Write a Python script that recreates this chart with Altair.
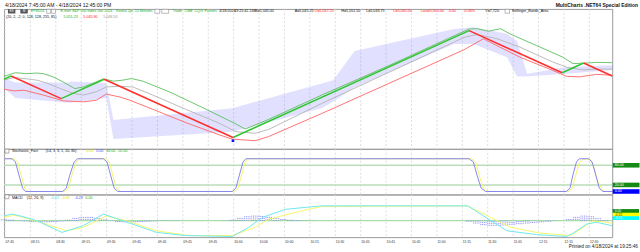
import altair as alt
import pandas as pd

FONT = "Liberation Sans"

# ---------------- main panel data (bar index, price) ----------------
price_idx = [-1, 0, 7, 13, 31, 64, 77, 80, 84]
price_val = [5075, 5076, 5069, 5075, 5057, 5090, 5077, 5080, 5076]
low_marker_idx = [31]
low_marker_val = [5056]

bb_up_idx = [-1.0, 0.6, 2.2, 3.6, 4.5, 5.9, 7.3, 8.9, 10.1, 11.5, 12.9, 14.3, 15.6, 16.8, 18.4, 22.1, 26.7,
             31.4, 32.7, 36.0, 43.4, 52.6, 64.0, 65.1, 66.7, 68.4, 69.7, 73.4, 77.1, 78.5, 80.6, 81.8, 84.0]
bb_up_val = [5075.9, 5077.0, 5076.7, 5076.9, 5076.7, 5075.7, 5074.1, 5072.1, 5072.6, 5073.8, 5075.1, 5074.4,
             5074.7, 5075.2, 5074.4, 5071.1, 5066.3, 5061.2, 5059.6, 5062.6, 5070.1, 5079.0, 5090.5, 5090.6,
             5089.8, 5090.6, 5089.0, 5085.4, 5081.8, 5079.8, 5080.0, 5080.2, 5080.1]
bb_mid_idx = [-1.0, 0.4, 2.2, 3.6, 5.0, 6.9, 8.7, 10.1, 11.9, 13.3, 15.2, 17.0, 19.8, 24.4, 29.1, 31.4, 34.1,
              36.0, 43.4, 63.3, 65.1, 67.9, 71.1, 75.7, 77.8, 79.9, 81.8, 84.0]
bb_mid_val = [5074.7, 5075.5, 5075.1, 5074.7, 5073.8, 5072.1, 5070.6, 5070.1, 5071.1, 5072.6, 5072.8, 5072.6,
              5070.1, 5065.7, 5061.4, 5058.8, 5058.3, 5059.5, 5067.5, 5087.9, 5088.8, 5087.5, 5084.9, 5080.3,
              5078.6, 5077.9, 5078.1, 5078.1]
bb_low_idx = [-1.0, 0.4, 1.8, 4.5, 7.3, 10.1, 11.9, 13.3, 15.2, 16.6, 19.8, 24.4, 29.1, 30.9, 34.1, 36.0, 43.4,
              63.3, 66.0, 67.4, 71.1, 75.7, 77.6, 79.4, 81.8, 84.0]
bb_low_val = [5071.9, 5071.4, 5071.6, 5070.1, 5068.3, 5068.0, 5068.5, 5070.4, 5069.5, 5068.5, 5065.7, 5061.6,
              5057.8, 5056.5, 5056.0, 5057.3, 5064.4, 5084.1, 5087.5, 5085.9, 5081.8, 5077.7, 5075.9, 5075.7,
              5076.5, 5076.2]
area_idx = [-1.0, 0.6, 8.0, 8.3, 13.3, 14.3, 30.9, 43.4, 45.0, 48.0, 61.9, 64.6, 69.3, 70.7, 72.1, 77.6, 84.1]
area_top = [5075.3, 5074.0, 5074.0, 5074.3, 5073.8, 5062.4, 5066.0, 5073.7, 5074.7, 5083.7, 5090.5, 5091.0,
            5089.0, 5086.8, 5076.7, 5078.8, 5079.3]
area_bot = [5072.3, 5069.2, 5067.7, 5067.7, 5069.2, 5056.5, 5058.8, 5066.0, 5068.0, 5072.5, 5085.9, 5085.9,
            5081.8, 5075.8, 5075.8, 5076.7, 5077.8]
main_ticks = [5055, 5060, 5065, 5070, 5075, 5080, 5085, 5090]

# ---------------- stochastic ----------------
sto_k_idx = [-1, 0.15, 0.6, 1.1, 1.6, 2.0, 7.2, 7.7, 8.2, 8.8, 9.3, 12.9, 13.4, 13.9, 14.4, 14.9,
             30.9, 31.4, 31.9, 32.4, 32.8, 64.0, 64.6, 65.1, 65.7, 66.3, 77.6, 78.1, 78.5, 79.0, 79.4,
             80.7, 81.2, 81.7, 82.2, 82.7, 84.5]
sto_k_val = [100, 100, 90, 50, 10, 0, 0, 10, 50, 90, 100, 100, 90, 50, 10, 0,
             0, 10, 50, 90, 100, 100, 90, 50, 10, 0, 0, 10, 50, 90, 100,
             100, 90, 50, 10, 0, 0]
sto_d_idx = [-1, 0.4, 0.9, 1.4, 1.9, 2.3, 7.5, 8.0, 8.5, 9.1, 9.6, 13.2, 13.7, 14.2, 14.7, 15.2,
             31.2, 31.7, 32.2, 32.7, 33.1, 64.3, 64.9, 65.4, 66.0, 66.6, 77.9, 78.4, 78.9, 79.4, 79.9,
             80.5, 81.0, 81.5, 82.0, 82.6, 83.0, 84.5]
sto_d_val = [100, 100, 90, 50, 10, 0, 0, 10, 50, 90, 100, 100, 90, 50, 10, 0,
             0, 10, 50, 90, 100, 100, 90, 50, 10, 0, 0, 10, 50, 88, 98,
             100, 95, 70, 30, 5, 0, 0]
sto_levels = [80, 20]
sto_box_val = [80, 20, 0]
sto_box_lab = ["80.00", "20.00", "0.00"]
sto_box_col = ["#168a16", "#168a16", "#0000ff"]

# ---------------- MACD ----------------
macd_idx = [-1, 0.15, 1.8, 3.6, 7.1, 10.1, 12.9, 15.6, 20.3, 24.4, 30.9, 33.2, 35.1, 38.3, 43.4, 63.8,
            69.3, 73.4, 77.6, 78.5, 80.4, 81.8, 84.0]
macd_val = [1.5, 2.1, 1.2, 0.0, -3.7, -1.6, 2.1, 0.0, -3.7, -4.7, -5.0, -2.1, 1.0, 3.6, 4.7, 4.7,
            -3.2, -4.4, -5.0, -4.0, -1.1, -0.5, -1.6]
sig_idx = [-1, 0.4, 1.8, 3.6, 7.8, 10.1, 13.3, 16.1, 20.3, 24.9, 30.9, 34.1, 36.0, 40.6, 43.4, 63.8,
           69.7, 73.9, 78.1, 79.0, 81.2, 82.5, 84.0]
sig_val = [1.0, 1.8, 1.0, -0.2, -3.2, -2.1, 1.5, 0.0, -3.2, -4.7, -4.7, -2.1, 0.5, 3.1, 4.5, 4.7,
           -2.0, -3.9, -4.7, -3.6, -0.1, -0.3, -0.8]
hist_idx = list(range(-1, 85))
hist_val = [0.4, 0.3, 0.1, -0.2, -0.4, -0.5, -0.5, -0.4, -0.2, 0.3, 0.9, 1.2, 1.2, 0.9, 0.4, -0.1,
            -0.4, -0.5, -0.5, -0.4, -0.3, -0.2, -0.1, -0.1, -0.1, 0, 0, 0, 0, 0, 0, 0.1, 0.3, 0.9,
            1.4, 1.6, 1.5, 1.2, 0.8, 0.5, 0.3, 0.2, 0.1, 0.05,
            0, 0, 0, 0, 0, 0, 0, 0, 0, 0, 0, 0, 0, 0, 0, 0, 0, 0, 0, 0, 0,
            -0.3, -0.9, -1.4, -1.6, -1.6, -1.5, -1.3, -1.1, -0.9, -0.7, -0.5, -0.3, -0.1, 0,
            0.5, 1.2, 1.6, 1.4, 0.8, 0.2, 0]

# ---------------- time axis ----------------
time_labels = ["07:45", "08:15", "08:30", "09:15", "09:30", "09:45", "09:45", "09:45", "09:45", "10:00",
               "10:00", "10:00", "10:15", "10:30", "10:45", "10:45", "10:45", "11:00", "11:15", "11:30",
               "11:45", "12:15", "12:15", "12:30"]
time_idx = [-0.86, 2.69, 6.24, 9.79, 13.34, 16.9, 20.45, 24.0, 27.55, 31.1, 34.65, 38.2, 41.75, 45.3,
            48.85, 52.4, 55.95, 59.5, 63.05, 66.6, 70.16, 73.7, 77.26, 80.81]

# ---------------- layout ----------------
W = 613
H_HEAD, H_MAIN, H_STO, H_MACD = 8, 141, 46, 43
X = alt.Scale(domain=[-1, 84], nice=False, zero=False)
Y_MAIN = alt.Scale(domain=[5053.5, 5096.7], nice=False, zero=False)
Y_STO = alt.Scale(domain=[-9.1, 130.3], nice=False, zero=False)
Y_MACD = alt.Scale(domain=[-5.2, 8.3], nice=False, zero=False)
GRID = "#d4d4d4"


def txt(px, py, s, color="#000000", size=3.7, align="left", weight="normal"):
    return alt.Chart(alt.Data(values=[{}])).mark_text(
        align=align, baseline="middle", fontSize=size, font=FONT, fontWeight=weight, color=color
    ).encode(x=alt.value(px), y=alt.value(py), text=alt.value(s))


def box(x0, y0, x1, y1, fill, stroke=None):
    kw = dict(color=fill)
    if stroke:
        kw.update(stroke=stroke, strokeWidth=0.5)
    return alt.Chart(alt.Data(values=[{}])).mark_rect(**kw).encode(
        x=alt.value(x0), x2=alt.value(x1), y=alt.value(y0), y2=alt.value(y1))


def line_df(idx, val):
    return pd.DataFrame({"i": idx, "v": val})


time_df = pd.DataFrame({"i": time_idx, "lab": time_labels})


def xgrid():
    return alt.Chart(time_df).mark_rule(color=GRID, strokeDash=[2, 2], strokeWidth=0.8).encode(
        x=alt.X("i:Q", scale=X, axis=None))


def yaxis(**kw):
    base = dict(orient="right", title=None, labelFont=FONT, labelFontSize=4, labelColor="#333333",
                tickSize=2, tickColor="#808080", domainColor="#707070", labelPadding=1.5,
                gridColor=GRID, gridDash=[2, 2])
    base.update(kw)
    return alt.Axis(**base)


# ---------------- header ----------------
header = alt.layer(
    txt(1, 4.0, "4/18/2024 7:45:00 AM - 4/18/2024 12:45:00 PM", "#111111", 5.1),
    txt(639, 4.0, "MultiCharts .NET64 Special Edition", "#111111", 5.0, "right", "bold"),
).properties(width=W, height=H_HEAD, view=alt.ViewBackground(stroke=None))

# ---------------- main panel ----------------
seg = pd.DataFrame({"i0": price_idx[:-1], "i1": price_idx[1:], "p0": price_val[:-1], "p1": price_val[1:]})
seg["dir"] = ["up" if b > a else "down" for a, b in zip(seg.p0, seg.p1)]

area = alt.Chart(pd.DataFrame({"i": area_idx, "t": area_top, "b": area_bot})).mark_area(
    color="#8080ff", opacity=0.24).encode(
    x=alt.X("i:Q", scale=X, axis=None),
    y=alt.Y("t:Q", scale=Y_MAIN, axis=yaxis(values=main_ticks, format=",.2f", grid=True)),
    y2="b:Q")


def band(idx, val, color):
    return alt.Chart(line_df(idx, val)).mark_line(color=color, strokeWidth=0.9).encode(
        x=alt.X("i:Q", scale=X, axis=None), y=alt.Y("v:Q", scale=Y_MAIN, axis=None))


price = alt.Chart(seg).mark_rule(strokeWidth=1.6).encode(
    x=alt.X("i0:Q", scale=X, axis=None), x2="i1:Q",
    y=alt.Y("p0:Q", scale=Y_MAIN, axis=None), y2="p1:Q",
    color=alt.Color("dir:N", scale=alt.Scale(domain=["up", "down"], range=["#33c633", "#ff3030"]),
                    legend=None))
marker = alt.Chart(line_df(low_marker_idx, low_marker_val)).mark_square(size=7, color="#1010ff", opacity=1).encode(
    x=alt.X("i:Q", scale=X, axis=None), y=alt.Y("v:Q", scale=Y_MAIN, axis=None))

G = "#22b022"
R = "#ff2020"
K = "#111111"
L2, L3 = 2.3, 7.8
legend_main = [
    box(4, 0.2, 11.5, 4.6, "#555555"), txt(7.7, L2, "ES", "#ffffff", 3.2, "center"),
    box(16.5, 0.2, 24, 4.6, "#555555"), txt(20.2, L2, "M", "#ffffff", 3.2, "center"),
    txt(27, L2, "EP8D24", G),
    box(43, 0.4, 47, 4.4, "#ffffff", "#777777"), box(48, 0.4, 52, 4.4, "#ffffff", "#777777"),
    txt(57, L2, "E-mini S&P 500 Index Jun 2024", G),
    txt(113, L2, "Renko 1pt, 15 Minutes", G),
    box(152, 0.4, 157, 4.4, "#ffffff", "#777777"), box(159, 0.4, 166, 4.4, "#ffffff", "#777777"),
    txt(170, L2, "Trade", G), txt(182, L2, "CME", G), txt(192, L2, "CQG", G), txt(202, L2, "Futures", G),
    txt(217, L2, "4/18/2024", K), txt(232, L2, "19:25:42.248", K), txt(253, L2, "B=5,045.00", K),
    txt(293, L2, "A=5,045.25", K), txt(313, L2, "O=5,047.25", R), txt(340, L2, "H=5,051.50", K),
    txt(365, L2, "L=5,043.75", K), txt(392, L2, "C=5,045.00", R), txt(420, L2, "Last=5,045.00", R),
    txt(447, L2, "-3.00", R), txt(463, L2, "-0.06%", R), txt(485, L2, "V=7,720", K),
    box(505, 0.4, 509.5, 4.4, "#ffffff", "#777777"),
    txt(512, L2, "Bollinger_Bands_Area", K),
    txt(2, L3, "(20, 2, -2, 0, 128, 128, 255, 85)", K),
    txt(60, L3, "5,051.23", G), txt(80, L3, "5,045.90", R), txt(100, L3, "5,048.56", "#999999"),
]

main = alt.layer(
    xgrid(), area,
    band(bb_up_idx, bb_up_val, "#5cbf5c"),
    band(bb_mid_idx, bb_mid_val, "#b4b4b4"),
    band(bb_low_idx, bb_low_val, "#ff6464"),
    price, marker, *legend_main,
).properties(width=W, height=H_MAIN)

# ---------------- stochastic panel ----------------
lev = alt.Chart(pd.DataFrame({"v": sto_levels})).mark_rule(color="#b9ddb9", strokeWidth=1.5).encode(
    y=alt.Y("v:Q", scale=Y_STO, axis=None))
k_line = alt.Chart(line_df(sto_k_idx, sto_k_val)).mark_line(color="#8585f2", strokeWidth=1).encode(
    x=alt.X("i:Q", scale=X, axis=None),
    y=alt.Y("v:Q", scale=Y_STO, axis=yaxis(values=[0, 50, 100], grid=True,
                                            labelExpr="datum.value == 0 ? '' : format(datum.value, '.2f')")))
d_line = alt.Chart(line_df(sto_d_idx, sto_d_val)).mark_line(color="#f4f46a", strokeWidth=1).encode(
    x=alt.X("i:Q", scale=X, axis=None), y=alt.Y("v:Q", scale=Y_STO, axis=None))
sto_boxes_df = pd.DataFrame({"v": sto_box_val, "lab": sto_box_lab, "col": sto_box_col})
sto_boxes = alt.Chart(sto_boxes_df).mark_tick(orient="horizontal", size=27, thickness=4.6, opacity=1).encode(
    x=alt.value(627), y=alt.Y("v:Q", scale=Y_STO, axis=None), color=alt.Color("col:N", scale=None))
sto_box_txt = alt.Chart(sto_boxes_df).mark_text(align="left", baseline="middle", fontSize=3.6, font=FONT,
                                                color="#ffffff").encode(
    x=alt.value(615.5), y=alt.Y("v:Q", scale=Y_STO, axis=None), text="lab:N")
sto_leg = [
    box(1, 0.3, 5, 4.3, "#ffffff", "#666666"),
    txt(8, 2.3, "Stochastic_Fast", K), txt(42, 2.3, "(14, 3, 3, 1, 20, 80)", K),
    txt(83, 2.3, "0.00", "#e0e000"), txt(93, 2.3, "0.00", "#5050ff"),
    txt(103, 2.3, "80.00", G), txt(115, 2.3, "20.00", G),
]
sto = alt.layer(xgrid(), lev, d_line, k_line, sto_boxes, sto_box_txt, *sto_leg).properties(
    width=W, height=H_STO)

# ---------------- MACD panel ----------------
zero = alt.Chart(pd.DataFrame({"v": [0]})).mark_rule(color="#a9dea9", strokeWidth=1.3).encode(
    y=alt.Y("v:Q", scale=Y_MACD, axis=yaxis(values=[-5], format=".2f", grid=False)))
hist_df = line_df(hist_idx, hist_val)
hist_layers = [
    alt.Chart(hist_df).mark_rule(color="#6f6ff0", strokeWidth=0.8, strokeDash=[1, 1], xOffset=off).encode(
        x=alt.X("i:Q", scale=X, axis=None), y=alt.Y("v:Q", scale=Y_MACD, axis=None), y2=alt.datum(0))
    for off in (-2.7, -0.9, 0.9, 2.7)
]
macd_line = alt.Chart(line_df(macd_idx, macd_val)).mark_line(color="#6fe8ee", strokeWidth=1).encode(
    x=alt.X("i:Q", scale=X, axis=None), y=alt.Y("v:Q", scale=Y_MACD, axis=None))
sig_line = alt.Chart(line_df(sig_idx, sig_val)).mark_line(color="#f6f66c", strokeWidth=1).encode(
    x=alt.X("i:Q", scale=X, axis=None), y=alt.Y("v:Q", scale=Y_MACD, axis=None))
time_txt = alt.Chart(time_df).mark_text(align="left", baseline="middle", fontSize=3.4, font=FONT,
                                        color="#333333", dx=0.5).encode(
    x=alt.X("i:Q", scale=X, axis=None), y=alt.value(H_MACD + 4.8), text="lab:N")
macd_leg = [
    box(1, 0.3, 5, 4.3, "#ffffff", "#666666"),
    txt(8, 4, "MACD", K), txt(23, 4, "(12, 26, 9)", K),
    txt(47, 4, "-0.61", "#40d8e0"), txt(58, 4, "-0.32", "#e0e000"),
    txt(71, 4, "-0.29", "#5050ff"), txt(82, 4, "0.00", G),
    box(613.5, 14.7, 640, 18.7, "#168a16"), txt(615.5, 16.7, "0.00", "#ffffff", 3.4),
    box(613.5, 18.4, 640, 22.2, "#ffff00"), txt(615.5, 20.3, "-0.32", "#333333", 3.4),
    box(613.5, 21.9, 640, 25.7, "#00ffff"), txt(615.5, 23.8, "-0.61", "#ffffff", 3.4),
    txt(639, H_MACD + 10.2, "Printed on 4/18/2024 at 19:25:46", "#222222", 4.8, "right"),
]
macd = alt.layer(xgrid(), zero, *hist_layers, sig_line, macd_line, time_txt, *macd_leg).properties(
    width=W, height=H_MACD)

chart = alt.vconcat(header, main, sto, macd, spacing=0, bounds="flush").resolve_scale(
    x="independent", y="independent", color="independent"
).properties(padding=0, background="white").configure_view(stroke="#9a9a9a", strokeWidth=1)

chart.save("out.html", embed_options={"renderer": "svg", "actions": False})
